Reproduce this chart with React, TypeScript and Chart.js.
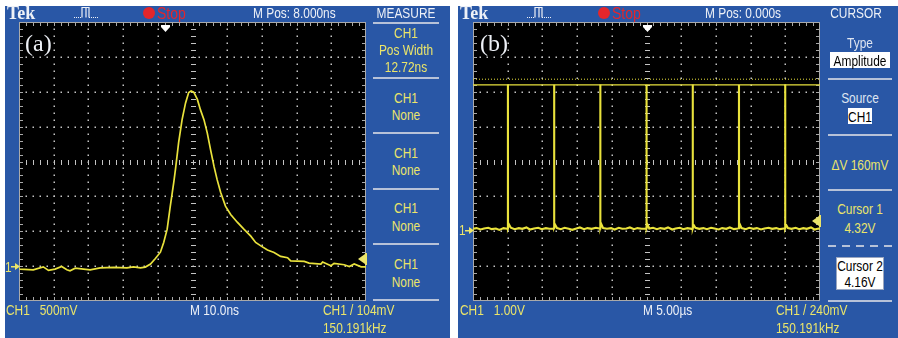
import React, { useEffect, useRef } from "react";
import { Chart, registerables } from "chart.js";

Chart.register(...registerables);

// ---------------- Panel (a): single pulse, CH1 500 mV/div, 10.0 ns/div ----------------
const aTimeNs = [
  -50, -49.7, -45.9, -43.0, -41.5, -39.6, -37.7, -36.2, -35.3, -33.8, -31.4, -29.5, -26.6, -22.7,
  -18.9, -17.0, -15.0, -13.6, -12.1, -10.7, -9.25, -8.3, -7.3, -6.4, -5.4, -4.9, -4.0, -3.0, -2.0,
  -1.1, -0.4, 0.4, 1.4, 2.3, 3.3, 4.25, 5.2, 6.2, 7.1, 8.1, 9.5, 11.0, 12.9, 14.8, 16.8, 18.2,
  19.7, 21.6, 23.5, 25.4, 27.4, 28.3, 32.2, 33.6, 37.0, 37.5, 39.9, 40.8, 43.7, 45.2, 46.6, 48.6, 50,
];
const aVolt = [
  -0.04, -0.043, -0.053, -0.01, -0.062, -0.043, -0.005, -0.053, -0.067, -0.03, -0.043, -0.053, -0.024,
  -0.019, -0.024, -0.01, -0.024, -0.014, 0.03, 0.11, 0.2, 0.34, 0.53, 0.86, 1.2, 1.39, 1.77, 2.1, 2.34,
  2.49, 2.51, 2.49, 2.39, 2.24, 2.1, 1.91, 1.67, 1.43, 1.24, 1.06, 0.86, 0.74, 0.63, 0.53, 0.43, 0.34,
  0.29, 0.23, 0.196, 0.14, 0.12, 0.076, 0.067, 0.043, 0.029, 0.06, 0.005, 0.04, 0.02, -0.005, 0.03,
  -0.01, -0.01,
];
const aXRangeNs = [-50, 50];
const aYRangeV = [-0.5, 3.5];
const aTriggerTimeNs = -8;
const aTriggerLevelV = 0.104;

// ---------------- Panel (b): pulse train, CH1 1.00 V/div, 5.00 us/div ----------------
const bTimeUs = [
  -25.0, -24.5, -23.9, -23.4, -22.8, -22.3, -21.7, -21.2, -20.6, -20.1,
  -19.97, -19.965, -19.955, -19.8, -19.55,
  -19.0, -18.4, -17.9, -17.3, -16.8, -16.2, -15.6, -15.1, -14.5, -14.0, -13.45,
  -13.31, -13.305, -13.295, -13.15, -12.9,
  -12.35, -11.8, -11.2, -10.7, -10.1, -9.6, -9.0, -8.5, -7.9, -7.3, -6.8,
  -6.66, -6.655, -6.645, -6.5, -6.25,
  -5.7, -5.1, -4.6, -4.0, -3.5, -2.9, -2.4, -1.8, -1.3, -0.7, -0.15,
  0, 0.005, 0.015, 0.15, 0.4,
  0.95, 1.5, 2.0, 2.6, 3.1, 3.7, 4.2, 4.8, 5.3, 5.9, 6.5,
  6.66, 6.665, 6.675, 6.8, 7.05,
  7.6, 8.2, 8.7, 9.3, 9.8, 10.4, 10.9, 11.5, 12.0, 12.6, 13.15,
  13.32, 13.325, 13.335, 13.47, 13.7,
  14.3, 14.8, 15.4, 15.9, 16.5, 17.0, 17.6, 18.1, 18.7, 19.2, 19.8,
  19.98, 19.985, 19.995, 20.13, 20.38,
  20.9, 21.5, 22.0, 22.6, 23.1, 23.7, 24.2, 24.8, 25.0,
];
const bVolt = [
  0.03, 0.05, 0.01, 0.04, 0.06, 0.02, 0.04, 0.0, 0.05, 0.03,
  0.04, 4.17, 0.06, 0.15, 0.06,
  0.02, 0.05, 0.03, 0.07, 0.01, 0.04, 0.06, 0.02, 0.05, 0.03, 0.04,
  0.05, 4.16, 0.07, 0.14, 0.05,
  0.02, 0.06, 0.03, 0.0, 0.04, 0.07, 0.02, 0.05, 0.03, 0.06, 0.04,
  0.04, 4.17, 0.06, 0.16, 0.05,
  0.03, 0.05, 0.01, 0.06, 0.03, 0.04, 0.07, 0.02, 0.05, 0.03, 0.04,
  0.05, 4.16, 0.06, 0.15, 0.04,
  0.06, 0.02, 0.05, 0.03, 0.07, 0.01, 0.04, 0.06, 0.02, 0.05, 0.03,
  0.04, 4.17, 0.05, 0.14, 0.06,
  0.03, 0.05, 0.02, 0.06, 0.04, 0.01, 0.05, 0.03, 0.07, 0.02, 0.04,
  0.05, 4.16, 0.07, 0.15, 0.05,
  0.02, 0.06, 0.03, 0.05, 0.01, 0.04, 0.06, 0.03, 0.05, 0.02, 0.04,
  0.04, 4.17, 0.06, 0.14, 0.05,
  0.03, 0.06, 0.02, 0.05, 0.03, 0.07, 0.01, 0.04, 0.03,
];
const bXRangeUs = [-25, 25];
const bYRangeV = [-2.04, 5.96];
const bCursorV = [4.32, 4.16]; // cursor 1 (dotted), cursor 2 (solid, selected)
const bTriggerTimeUs = 0;
const bTriggerLevelV = 0.24;

// ---------------- styling ----------------
const BLUE = "#2957a6";
const YEL = "#ebe56a";
const TRACE = "#e9e23c";
const WHITE = "#eef1f7";
const LIGHT = "#dfe5f1";
const SEP = "#b7c2d8";
const RED = "#e3262b";
const SANS = '"Liberation Sans", Arial, sans-serif';
const SERIF = '"Liberation Serif", "DejaVu Serif", "Times New Roman", serif';
const NARROW = 0.85;
const FS = 14;

const PAD = { left: 15, top: 2, right: 2, bottom: 2 };
const CANVAS_W = 364;
const CANVAS_H = 283;

function scopePlugin(trigT: number, trigV: number) {
  return {
    id: "scopeFrame",
    beforeDatasetsDraw(chart: any) {
      const { ctx, chartArea: a, scales } = chart;
      const xs = scales.x;
      const ys = scales.y;
      const nx = 10;
      const ny = 8;
      const sub = 5;
      const xp = (i: number) => Math.round(xs.getPixelForValue(xs.min + ((xs.max - xs.min) * i) / (nx * sub)));
      const yp = (j: number) => Math.round(ys.getPixelForValue(ys.min + ((ys.max - ys.min) * j) / (ny * sub)));
      ctx.save();
      ctx.fillStyle = "#000";
      ctx.fillRect(a.left, a.top, a.right - a.left, a.bottom - a.top);
      ctx.fillStyle = "#c4c4c4";
      for (let i = 1; i < nx; i++) {
        if (i === nx / 2) continue;
        const x = xp(i * sub);
        for (let j = 1; j < ny * sub; j++) ctx.fillRect(x - 0.5, yp(j) - 0.5, 1.5, 1.5);
      }
      for (let j = 1; j < ny; j++) {
        if (j === ny / 2) continue;
        const y = yp(j * sub);
        for (let i = 1; i < nx * sub; i++) ctx.fillRect(xp(i) - 0.5, y - 0.5, 1.5, 1.5);
      }
      const cx = xp((nx * sub) / 2);
      const cy = yp((ny * sub) / 2);
      for (let j = 1; j < ny * sub; j++) ctx.fillRect(cx - 2, yp(j), 5, 1);
      for (let i = 1; i < nx * sub; i++) ctx.fillRect(xp(i), cy - 2, 1, 5);
      // frame with inward ticks
      ctx.fillStyle = "#a9a9a9";
      ctx.fillRect(a.left, a.top, a.right - a.left, 1);
      ctx.fillRect(a.left, a.bottom - 1, a.right - a.left, 1);
      ctx.fillRect(a.left, a.top, 1, a.bottom - a.top);
      ctx.fillRect(a.right - 1, a.top, 1, a.bottom - a.top);
      for (let i = 1; i < nx * sub; i++) {
        ctx.fillRect(xp(i), a.top, 1, 4);
        ctx.fillRect(xp(i), a.bottom - 4, 1, 4);
      }
      for (let j = 1; j < ny * sub; j++) {
        ctx.fillRect(a.left, yp(j), 4, 1);
        ctx.fillRect(a.right - 4, yp(j), 4, 1);
      }
      ctx.restore();
    },
    afterDatasetsDraw(chart: any) {
      const { ctx, chartArea: a, scales } = chart;
      const xs = scales.x;
      const ys = scales.y;
      ctx.save();
      // trigger position marker (top)
      const tx = Math.round(xs.getPixelForValue(trigT));
      ctx.fillStyle = "#ffffff";
      ctx.fillRect(tx - 4, a.top + 3, 9, 2);
      ctx.beginPath();
      ctx.moveTo(tx - 4, a.top + 5);
      ctx.lineTo(tx + 5, a.top + 5);
      ctx.lineTo(tx + 0.5, a.top + 10);
      ctx.closePath();
      ctx.fill();
      // trigger level marker (right)
      const ty = Math.round(ys.getPixelForValue(trigV));
      ctx.fillStyle = YEL;
      ctx.beginPath();
      ctx.moveTo(a.right - 1, ty - 5);
      ctx.lineTo(a.right - 1, ty + 5);
      ctx.lineTo(a.right - 8, ty);
      ctx.closePath();
      ctx.fill();
      ctx.fillRect(a.right - 1, ty - 6, 2, 12);
      // ground marker (left)
      const gy = Math.round(ys.getPixelForValue(0));
      ctx.fillRect(a.left - 8, gy, 5, 1.5);
      ctx.beginPath();
      ctx.moveTo(a.left - 4, gy - 3);
      ctx.lineTo(a.left - 4, gy + 4);
      ctx.lineTo(a.left + 1, gy + 0.5);
      ctx.closePath();
      ctx.fill();
      ctx.restore();
    },
  };
}

type Trace = { xs: number[]; ys: number[]; width: number; dash?: number[]; color: string };

function ScopeChart(props: {
  left: number;
  top: number;
  xRange: number[];
  yRange: number[];
  traces: Trace[];
  trigT: number;
  trigV: number;
}) {
  const ref = useRef<HTMLCanvasElement | null>(null);
  useEffect(() => {
    if (!ref.current) return;
    const datasets = props.traces.map((t) => ({
      data: t.xs.map((x, i) => ({ x, y: t.ys[i] })),
      borderColor: t.color,
      borderWidth: t.width,
      borderDash: t.dash || [],
      pointRadius: 0,
      tension: 0,
      fill: false,
    }));
    const chart = new Chart(ref.current, {
      type: "line",
      data: { datasets },
      options: {
        animation: false,
        responsive: false,
        devicePixelRatio: 1,
        events: [],
        layout: { padding: PAD },
        plugins: { legend: { display: false }, tooltip: { enabled: false } },
        scales: {
          x: { type: "linear", min: props.xRange[0], max: props.xRange[1], display: false },
          y: { type: "linear", min: props.yRange[0], max: props.yRange[1], display: false },
        },
      },
      plugins: [scopePlugin(props.trigT, props.trigV)],
    } as any);
    return () => chart.destroy();
  }, []);
  return (
    <canvas
      ref={ref}
      width={CANVAS_W}
      height={CANVAS_H}
      style={{ position: "absolute", left: props.left, top: props.top, width: CANVAS_W, height: CANVAS_H }}
    />
  );
}

function Txt(p: {
  x: number;
  y: number;
  children: React.ReactNode;
  color?: string;
  size?: number;
  center?: boolean;
  family?: string;
  weight?: number;
  sx?: number;
}) {
  const sx = p.sx ?? (p.family ? 1 : NARROW);
  return (
    <div
      style={{
        position: "absolute",
        left: p.x,
        top: p.y,
        transform: `translate(${p.center ? "-50%" : "0"}, -50%) scaleX(${sx})`,
        transformOrigin: p.center ? "50% 50%" : "0 50%",
        color: p.color || YEL,
        fontSize: p.size || FS,
        fontFamily: p.family || SANS,
        fontWeight: p.weight || 400,
        lineHeight: 1,
        whiteSpace: "pre",
      }}
    >
      {p.children}
    </div>
  );
}

function Sep(p: { x1: number; x2: number; y: number; dashed?: boolean }) {
  return (
    <div
      style={{
        position: "absolute",
        left: p.x1,
        top: p.y - 1,
        width: p.x2 - p.x1,
        height: 2,
        background: p.dashed ? `repeating-linear-gradient(90deg, ${SEP} 0 8px, transparent 8px 14px)` : SEP,
      }}
    />
  );
}

function WBox(p: { x1: number; x2: number; y1: number; y2: number; border?: boolean }) {
  return (
    <div
      style={{
        position: "absolute",
        left: p.x1,
        top: p.y1,
        width: p.x2 - p.x1,
        height: p.y2 - p.y1,
        background: "#ffffff",
        boxSizing: "border-box",
        border: p.border ? "1px solid #9aa6bf" : "none",
      }}
    />
  );
}

function TrigIcon(p: { x: number; y: number }) {
  return (
    <svg style={{ position: "absolute", left: p.x, top: p.y }} width={26} height={13}>
      <path d="M0 11.5 H8" stroke={WHITE} strokeWidth={1} strokeDasharray="1 1" fill="none" />
      <path d="M8 11.5 V1.5 H12 V11.5 M12 1.5 H15 V11.5" stroke={WHITE} strokeWidth={1.2} fill="none" />
      <path d="M15 11.5 H25" stroke={WHITE} strokeWidth={1} strokeDasharray="1 1" fill="none" />
    </svg>
  );
}

function StopMark(p: { x: number }) {
  return (
    <>
      <div
        style={{
          position: "absolute",
          left: p.x - 6,
          top: 7,
          width: 12,
          height: 12,
          borderRadius: "50%",
          background: RED,
        }}
      />
      <Txt x={p.x + 8} y={13} color={RED} size={16.5}>
        Stop
      </Txt>
    </>
  );
}

export default function App() {
  return (
    <div style={{ position: "absolute", left: 0, top: 0, width: 898, height: 338, background: "#fff", overflow: "hidden" }}>
      {/* panel backgrounds */}
      <div style={{ position: "absolute", left: 5, top: 6, width: 445, height: 332, background: BLUE }} />
      <div style={{ position: "absolute", left: 458, top: 6, width: 440, height: 332, background: BLUE }} />

      {/* scope screens */}
      <ScopeChart
        left={4}
        top={20}
        xRange={aXRangeNs}
        yRange={aYRangeV}
        trigT={aTriggerTimeNs}
        trigV={aTriggerLevelV}
        traces={[{ xs: aTimeNs, ys: aVolt, width: 1.7, color: TRACE }]}
      />
      <ScopeChart
        left={458}
        top={20}
        xRange={bXRangeUs}
        yRange={bYRangeV}
        trigT={bTriggerTimeUs}
        trigV={bTriggerLevelV}
        traces={[
          { xs: bXRangeUs, ys: [bCursorV[0], bCursorV[0]], width: 1, dash: [1, 2], color: TRACE },
          { xs: bXRangeUs, ys: [bCursorV[1], bCursorV[1]], width: 1.2, color: TRACE },
          { xs: bTimeUs, ys: bVolt, width: 2.1, color: TRACE },
        ]}
      />

      {/* ---------- panel (a) text ---------- */}
      <Txt x={7} y={13} color={WHITE} size={18} family={SERIF} weight={700}>
        Tek
      </Txt>
      <TrigIcon x={74} y={6} />
      <StopMark x={149} />
      <Txt x={253} y={13} color={WHITE}>
        M Pos: 8.000ns
      </Txt>
      <Txt x={406} y={13} color={WHITE} center>
        MEASURE
      </Txt>
      <Sep x1={373} x2={439} y={23} />
      <Txt x={406} y={33} center>CH1</Txt>
      <Txt x={406} y={50} center>Pos Width</Txt>
      <Txt x={406} y={67} center>12.72ns</Txt>
      <Sep x1={373} x2={439} y={78} />
      <Txt x={406} y={98} center>CH1</Txt>
      <Txt x={406} y={115} center>None</Txt>
      <Sep x1={373} x2={439} y={133} />
      <Txt x={406} y={153} center>CH1</Txt>
      <Txt x={406} y={170} center>None</Txt>
      <Sep x1={373} x2={439} y={189} />
      <Txt x={406} y={208} center>CH1</Txt>
      <Txt x={406} y={226} center>None</Txt>
      <Sep x1={373} x2={439} y={244} />
      <Txt x={406} y={264} center>CH1</Txt>
      <Txt x={406} y={282} center>None</Txt>
      <Sep x1={373} x2={439} y={300} />
      <Txt x={25} y={43} color={WHITE} size={24} family={SERIF}>
        (a)
      </Txt>
      <Txt x={5} y={267}>1</Txt>
      <Txt x={6} y={310}>{"CH1   500mV"}</Txt>
      <Txt x={190} y={310} color={WHITE}>
        M 10.0ns
      </Txt>
      <Txt x={323} y={310}>{"CH1 / 104mV"}</Txt>
      <Txt x={323} y={328}>150.191kHz</Txt>

      {/* ---------- panel (b) text ---------- */}
      <Txt x={460} y={13} color={WHITE} size={18} family={SERIF} weight={700}>
        Tek
      </Txt>
      <TrigIcon x={527} y={6} />
      <StopMark x={604} />
      <Txt x={705} y={13} color={WHITE}>
        M Pos: 0.000s
      </Txt>
      <Txt x={856} y={13} color={WHITE} center>
        CURSOR
      </Txt>
      <Txt x={860} y={43} color={LIGHT} center>
        Type
      </Txt>
      <WBox x1={830} x2={890} y1={52} y2={68} />
      <Txt x={860} y={60.5} color="#000" center>
        Amplitude
      </Txt>
      <Sep x1={828} x2={892} y={79} />
      <Txt x={860} y={98} color={LIGHT} center>
        Source
      </Txt>
      <WBox x1={848} x2={872} y1={108} y2={124} />
      <Txt x={860} y={116.5} color="#000" center>
        CH1
      </Txt>
      <Sep x1={828} x2={892} y={135} />
      <Txt x={860} y={165} center>{"\u0394V 160mV"}</Txt>
      <Sep x1={828} x2={892} y={190} />
      <Txt x={860} y={209} center>Cursor 1</Txt>
      <Txt x={860} y={228} center>4.32V</Txt>
      <Sep x1={828} x2={892} y={246} dashed />
      <WBox x1={836} x2={884} y1={257} y2={290} border />
      <Txt x={860} y={266} color="#000" center>
        Cursor 2
      </Txt>
      <Txt x={860} y={282} color="#000" center>
        4.16V
      </Txt>
      <Sep x1={828} x2={892} y={301} />
      <Txt x={480} y={43} color={WHITE} size={24} family={SERIF}>
        (b)
      </Txt>
      <Txt x={459} y={230}>1</Txt>
      <Txt x={460} y={310}>{"CH1   1.00V"}</Txt>
      <Txt x={643} y={310} color={WHITE}>
        M 5.00µs
      </Txt>
      <Txt x={776} y={310}>{"CH1 / 240mV"}</Txt>
      <Txt x={776} y={328}>150.191kHz</Txt>
    </div>
  );
}
